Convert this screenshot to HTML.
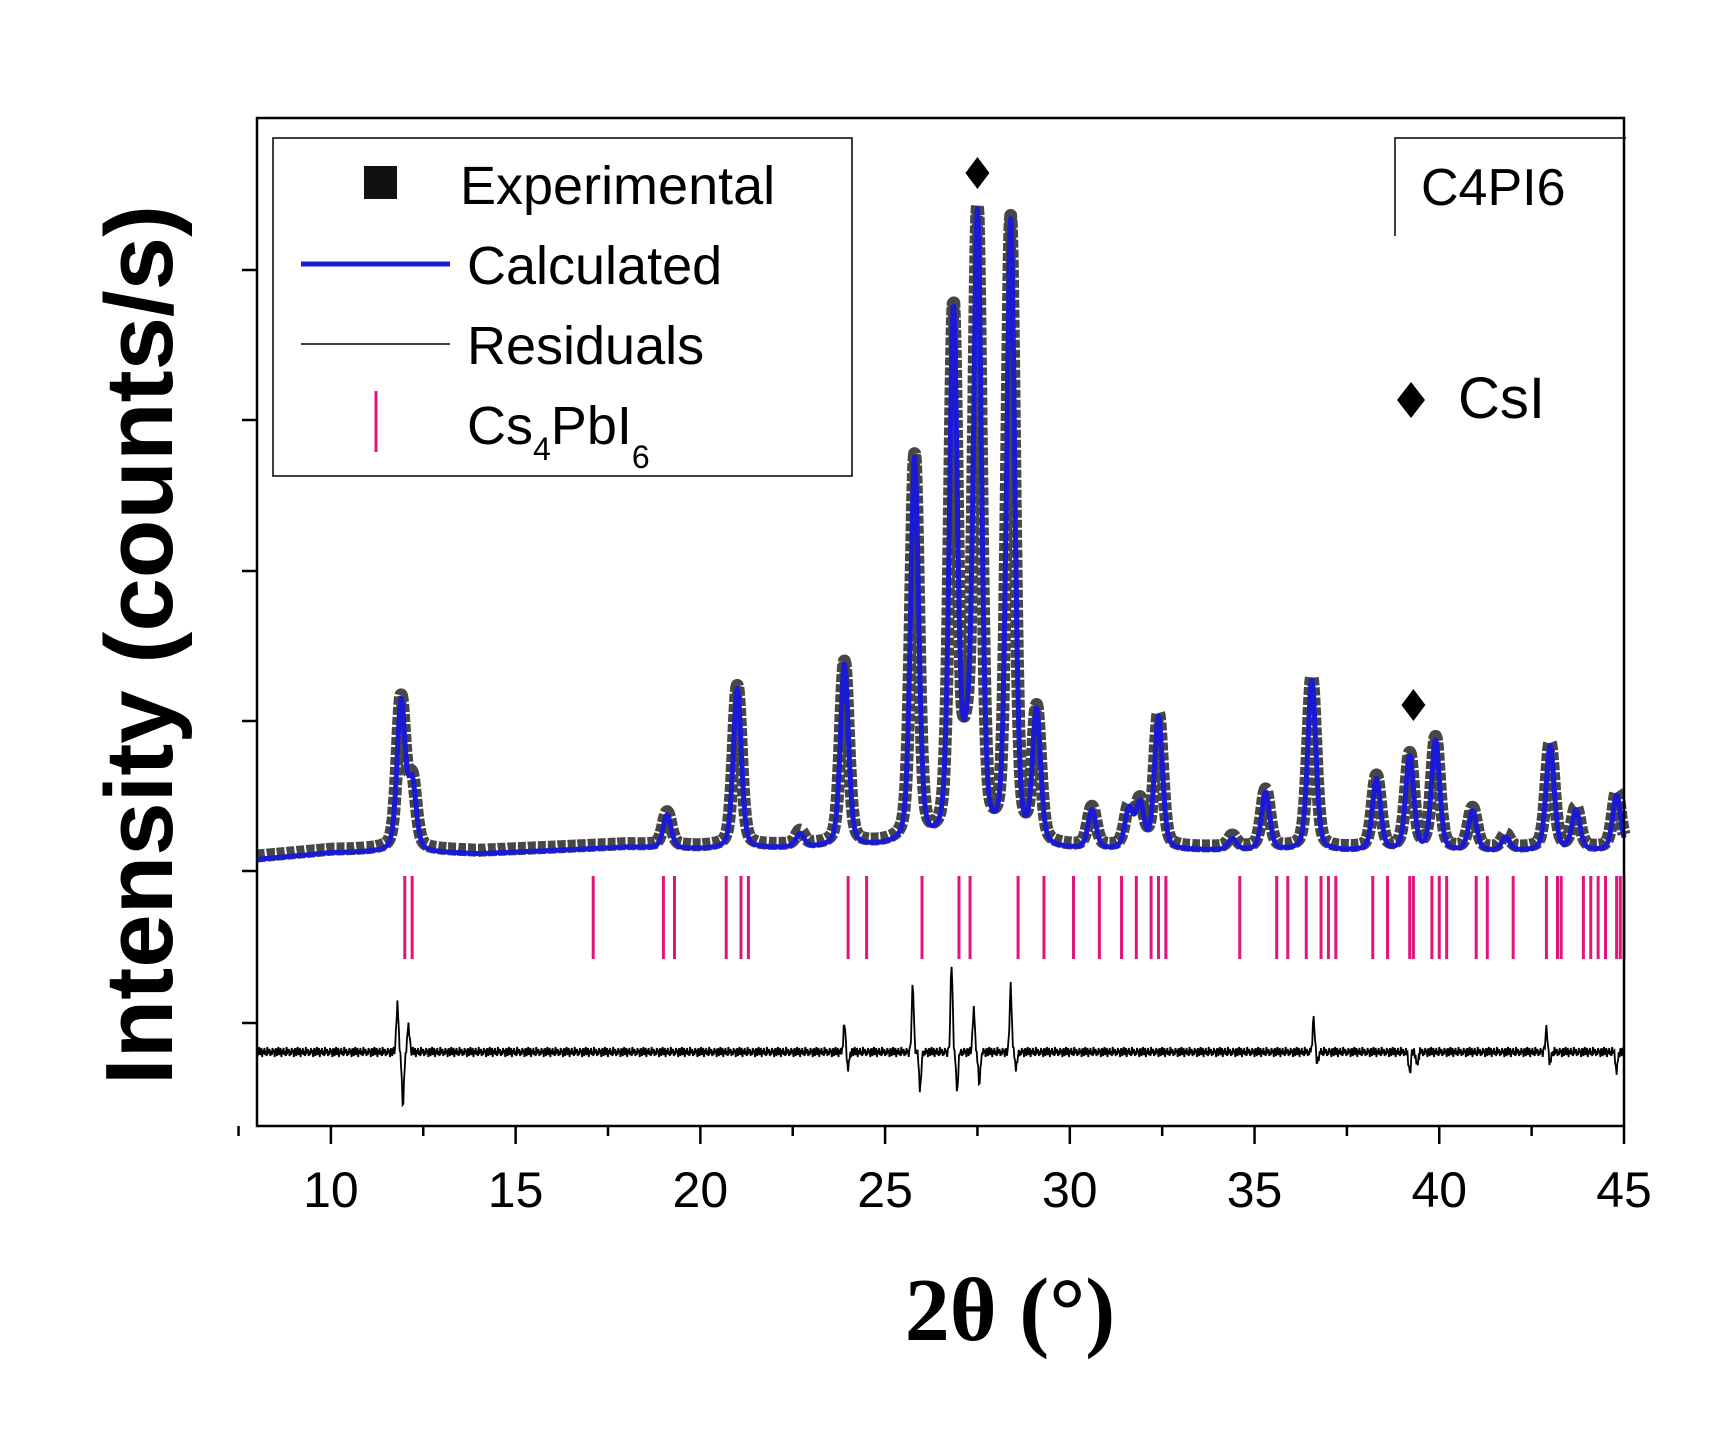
<!DOCTYPE html>
<html><head><meta charset="utf-8"><style>
html,body{margin:0;padding:0;background:#fff;}
svg{display:block;font-family:"Liberation Sans",sans-serif;}
</style></head><body>
<svg id="chart" width="1719" height="1435" viewBox="0 0 1719 1435">
<g id="plot"></g>
</svg>
<script>
const xTicks = [10,15,20,25,30,35,40,45];
const bgX = [8,10,12,14,16,18,20,25,30,35,40,45];
const bgV = [5,11,12,10,13,16,14,16,13,13,12,13];
const peakPos = [11.9,12.2,19.1,21.0,22.7,23.9,25.8,26.85,27.2,27.5,28.4,29.1,30.6,31.6,31.9,32.4,34.4,35.3,36.55,38.3,39.2,39.9,40.9,41.8,43.0,43.7,44.8];
const peakH   = [135,60,30,145,12,165,350,480,60,565,565,120,35,35,40,120,10,52,155,65,85,100,36,12,95,36,50];
const reflPos = [12.0,12.2,17.1,19.0,19.3,20.7,21.1,21.3,24.0,24.5,26.0,27.0,27.3,28.6,29.3,30.1,30.8,31.4,31.8,32.2,32.4,32.6,34.6,35.6,35.9,36.4,36.8,37.0,37.2,38.2,38.6,39.2,39.3,39.8,40.0,40.2,41.0,41.3,42.0,42.9,43.2,43.3,43.9,44.1,44.3,44.5,44.8,44.9,45.0];
const resPos = [11.8,11.95,12.1,23.9,24.0,25.75,25.95,26.8,26.95,27.4,27.55,28.4,28.55,36.6,36.7,39.2,39.4,42.9,43.0,44.8];
const resAmp = [45,-50,25,25,-15,60,-35,80,-35,40,-30,60,-15,30,-10,-20,-12,20,-10,-18];
const resNoise = [3,-4,1,5,-3,0,4,-5,2,-2,4,-3,1,-4,5,-1,0,3,-4,1,-3,4,-1,2,-5,3];
const csiMarks = [27.5,39.3];

const NS="http://www.w3.org/2000/svg";
const X0=257,X1=1624,Y0=118,Y1=1126;
const xS=v=>X0+(v-8)/(45-8)*(X1-X0);
const yS=v=>865-v*1.102;
const rS=v=>1052-v*1.102;
const svg=document.getElementById('chart');
function mk(t,a,p){const e=document.createElementNS(NS,t);for(const k in a)e.setAttribute(k,a[k]);(p||svg).appendChild(e);return e;}
function bg(x){for(let i=0;i<bgX.length-1;i++){if(x<=bgX[i+1]){const t=(x-bgX[i])/(bgX[i+1]-bgX[i]);return bgV[i]+t*(bgV[i+1]-bgV[i]);}}return bgV[bgV.length-1];}
function prof(x,pos,h,w){let s=0;for(let i=0;i<pos.length;i++){const d=(x-pos[i])/w;s+=h[i]*(0.65*Math.exp(-0.693*d*d)+0.35/(1+d*d));}return s;}
let ptsE=[],ptsC=[],ptsR=[];
let n=0;
for(let x=8;x<=45.0001;x+=0.02){
  const c=bg(x)+prof(x,peakPos,peakH,0.13);
  ptsC.push(xS(x).toFixed(1)+','+yS(c).toFixed(1));
  ptsE.push(xS(x).toFixed(1)+','+yS(c+3).toFixed(1));
  let r=resNoise[n%resNoise.length]*0.9;
  for(let i=0;i<resPos.length;i++){const d=(x-resPos[i])/0.04;r+=resAmp[i]*Math.exp(-d*d);}
  ptsR.push(xS(x).toFixed(1)+','+rS(r).toFixed(1));
  n++;
}
let e;
e=mk('polyline',{points:ptsE.join(' '),fill:'none',stroke:'#474747','stroke-width':13,'stroke-dasharray':'8 2','stroke-linejoin':'round'});

e=mk('polyline',{points:ptsC.join(' '),fill:'none',stroke:'#1a1ad6','stroke-width':5,'stroke-linejoin':'round'});

e=mk('polyline',{points:ptsR.join(' '),fill:'none',stroke:'#000','stroke-width':1.8});

reflPos.forEach(p=>{
  const l=mk('line',{x1:xS(p),x2:xS(p),y1:876,y2:959,stroke:'#e0157c','stroke-width':3});
  
  
});
csiMarks.forEach(p=>{
  const x=xS(p),y=p<30?173:705;
  const d=mk('path',{d:`M${x} ${y-16}L${x+12} ${y}L${x} ${y+16}L${x-12} ${y}Z`,fill:'#000'});
  
  
});
e=mk('rect',{x:X0,y:Y0,width:X1-X0,height:Y1-Y0,fill:'none',stroke:'#000','stroke-width':2.5});

[270,420,571,721,871,1023].forEach(y=>{mk('line',{x1:X0-15,x2:X0,y1:y,y2:y,stroke:'#000','stroke-width':2.5});});
xTicks.forEach(v=>{
  mk('line',{x1:xS(v),x2:xS(v),y1:Y1,y2:Y1+18,stroke:'#000','stroke-width':2.5});
  mk('line',{x1:xS(v-2.5),x2:xS(v-2.5),y1:Y1,y2:Y1+10,stroke:'#000','stroke-width':2.5});
  const t=mk('text',{x:xS(v),y:1207,'text-anchor':'middle','font-size':50,fill:'#000'});
  t.textContent=v;
  
  
});
function txt(s,a,name){const t=mk('text',a);t.innerHTML=s;return t;}
txt('2θ (°)',{x:1010,y:1340,'text-anchor':'middle','font-size':90,'font-weight':'bold','font-family':'"Liberation Serif",serif'},'x-axis-title');
txt('Intensity (counts/s)',{x:0,y:0,transform:'translate(172,645) rotate(-90)','text-anchor':'middle','font-size':96,'font-weight':'bold'},'y-axis-title');
e=mk('rect',{x:273,y:138,width:579,height:338,fill:'#fff',stroke:'#000','stroke-width':1.5});

mk('rect',{x:364,y:166,width:33,height:33,fill:'#111'});
mk('line',{x1:301,x2:450,y1:264,y2:264,stroke:'#1a1ad6','stroke-width':5});
mk('line',{x1:301,x2:450,y1:344,y2:344,stroke:'#000','stroke-width':1.5});
mk('line',{x1:376,x2:376,y1:391,y2:452,stroke:'#e0157c','stroke-width':3});
txt('Experimental',{x:460,y:204,'font-size':54},'legend-experimental');
txt('Calculated',{x:467,y:284,'font-size':54},'legend-calculated');
txt('Residuals',{x:467,y:364,'font-size':54},'legend-residuals');
txt('Cs<tspan font-size="32" dy="16">4</tspan><tspan dy="-16">PbI</tspan><tspan font-size="32" dy="24">6</tspan>',{x:467,y:444,'font-size':54},'legend-cs4pbi6');
mk('path',{d:'M1395 236 L1395 138 L1626 138',fill:'none',stroke:'#000','stroke-width':1.5});
txt('C4PI6',{x:1421,y:205,'font-size':52},'sample-label');
mk('path',{d:'M1411 382L1425 400L1411 418L1397 400Z',fill:'#000'});
txt('CsI',{x:1458,y:418,'font-size':58},'csi-legend');
</script>
</body></html>
